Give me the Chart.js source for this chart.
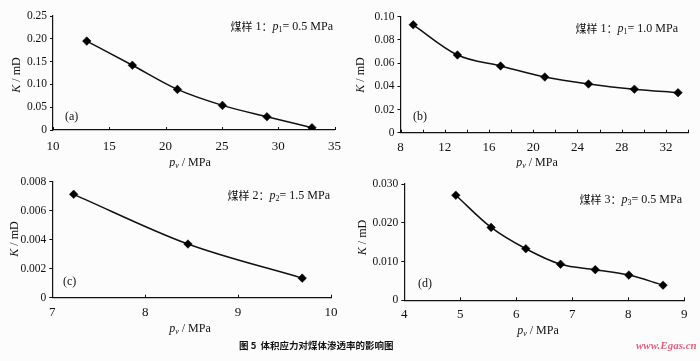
<!DOCTYPE html>
<html><head><meta charset="utf-8">
<script src="https://cdn.jsdelivr.net/npm/chart.js@4.4.0/dist/chart.umd.min.js"></script>
<style>
html,body{margin:0;padding:0;background:#fcfcfc;}
#wrap{position:relative;width:700px;height:361px;overflow:hidden;background:#fcfcfc;}
canvas{position:absolute;}
#caption{position:absolute;left:239px;top:337px;font:bold 9.5px "Noto Sans CJK SC",sans-serif;color:#111;white-space:pre;line-height:16px;}
#wm{position:absolute;left:636px;top:337px;font:italic bold 11px "Liberation Serif",serif;color:#e4607f;line-height:16px;white-space:pre;}
</style></head><body>
<div id="wrap">
<canvas id="ca" width="350" height="168" style="left:0;top:0"></canvas>
<canvas id="cb" width="350" height="168" style="left:350px;top:0"></canvas>
<canvas id="cc" width="350" height="170" style="left:0;top:168px"></canvas>
<canvas id="cd" width="350" height="170" style="left:350px;top:168px"></canvas>
<div id="caption">图 5  体积应力对煤体渗透率的影响图</div>
<div id="wm">www.Egas.cn</div>
</div>
<script>
// ---- data ----
const pvA = [13.0, 17.05, 21.05, 25.05, 29.0, 33.0];
const kA  = [0.195, 0.142, 0.089, 0.054, 0.029, 0.005];
const pvB = [9.15, 13.15, 17.05, 21.05, 25.0, 29.15, 33.1];
const kB  = [0.093, 0.067, 0.0575, 0.048, 0.042, 0.0375, 0.0345];
const pvC = [7.23, 8.46, 9.69];
const kC  = [0.00713, 0.0037, 0.00135];
const pvD = [4.92, 5.55, 6.17, 6.79, 7.41, 8.01, 8.62];
const kD  = [0.0271, 0.0188, 0.0133, 0.0093, 0.0079, 0.0065, 0.0039];

// tick values and labels
const xTicksA = [10, 15, 20, 25, 30, 35];
const xLabelsA = ['10', '15', '20', '25', '30', '35'];
const yTicksA = [0, 0.05, 0.10, 0.15, 0.20, 0.25];
const yLabelsA = ['0', '0.05', '0.10', '0.15', '0.20', '0.25'];

const xTicksB = [8, 10, 12, 14, 16, 18, 20, 22, 24, 26, 28, 30, 32, 34];
const xLabelsB = ['8', '', '12', '', '16', '', '20', '', '24', '', '28', '', '32', ''];
const yTicksB = [0, 0.02, 0.04, 0.06, 0.08, 0.10];
const yLabelsB = ['0', '0.02', '0.04', '0.06', '0.08', '0.10'];

const xTicksC = [7, 8, 9, 10];
const xLabelsC = ['7', '8', '9', '10'];
const yTicksC = [0, 0.002, 0.004, 0.006, 0.008];
const yLabelsC = ['0', '0.002', '0.004', '0.006', '0.008'];

const xTicksD = [4, 5, 6, 7, 8, 9];
const xLabelsD = ['4', '5', '6', '7', '8', '9'];
const yTicksD = [0, 0.010, 0.020, 0.030];
const yLabelsD = ['0', '0.010', '0.020', '0.030'];

const annotA = ['煤样', ' 1', '：', 'p', '1', '= 0.5 MPa'];
const annotB = ['煤样', ' 1', '：', 'p', '1', '= 1.0 MPa'];
const annotC = ['煤样', ' 2', '：', 'p', '2', '= 1.5 MPa'];
const annotD = ['煤样', ' 3', '：', 'p', '3', '= 0.5 MPa'];

// ---- drawing helpers ----
const SERIF = '"Liberation Serif","Times New Roman",serif';
const CJK = '"Noto Sans CJK SC",sans-serif';
function fontStr(p){ return (p.italic?'italic ':'') + (p.bold?'bold ':'') + p.size + 'px ' + (p.cjk?CJK:SERIF); }
function drawRich(ctx, parts, x, y, align, rot){
  ctx.save();
  ctx.textBaseline = 'middle';
  ctx.textAlign = 'left';
  ctx.fillStyle = '#111';
  let w = 0;
  parts.forEach(p => { ctx.font = fontStr(p); p._w = ctx.measureText(p.t).width; w += p._w; });
  ctx.translate(x, y);
  if (rot) ctx.rotate(rot);
  let cx = align === 'center' ? -w/2 : (align === 'right' ? -w : 0);
  parts.forEach(p => { ctx.font = fontStr(p); ctx.fillText(p.t, cx, p.dy || 0); cx += p._w; });
  ctx.restore();
}
function annotParts(a){
  return [
    {t:a[0], size:11, cjk:true},
    {t:a[1], size:12},
    {t:a[2], size:11, cjk:true},
    {t:a[3], size:12, italic:true},
    {t:a[4], size:8, dy:3},
    {t:a[5], size:12}
  ];
}
const yTitleParts = [{t:'K', size:12, italic:true}, {t:' / mD', size:12}];
const xTitleParts = [{t:'p', size:12, italic:true}, {t:'v', size:8, italic:true, dy:3}, {t:' / MPa', size:12}];

const textPlugin = {
  id: 'panelText',
  afterDraw(chart){
    const o = chart.options.plugins.panelText;
    const ctx = chart.ctx;
    const ca = chart.chartArea;
    const xs = chart.scales.x;
    // inward ticks on x axis
    ctx.save();
    ctx.strokeStyle = '#111';
    ctx.lineWidth = 1;
    xs.ticks.forEach(t => {
      const px = Math.round(xs.getPixelForValue(t.value)) + 0.5;
      ctx.beginPath(); ctx.moveTo(px, ca.bottom); ctx.lineTo(px, ca.bottom - 3); ctx.stroke();
    });
    ctx.restore();
    drawRich(ctx, yTitleParts, o.yt[0], o.yt[1], 'center', -Math.PI/2);
    drawRich(ctx, xTitleParts, o.xt[0], o.xt[1], 'center');
    drawRich(ctx, annotParts(o.annot), o.an[0], o.an[1], 'right');
    drawRich(ctx, [{t:o.label, size:12}], o.lb[0], o.lb[1], 'left');
  }
};

function makePanel(id, xs, ys, cfg){
  const canvas = document.getElementById(id);
  const H = canvas.height;
  return new Chart(canvas, {
    type: 'scatter',
    data: { datasets: [{
      data: xs.map((x, i) => ({x: x, y: ys[i]})),
      showLine: true,
      borderColor: '#111',
      borderWidth: 1.5,
      cubicInterpolationMode: 'monotone',
      pointStyle: 'rectRot',
      pointRadius: 4.3,
      pointBackgroundColor: '#000',
      pointBorderColor: '#000',
      pointBorderWidth: 0.5
    }]},
    options: {
      responsive: false,
      animation: false,
      events: [],
      layout: { padding: { left: 0, top: cfg.T, right: cfg.padR, bottom: 0 } },
      plugins: {
        legend: { display: false },
        tooltip: { enabled: false },
        panelText: cfg.text
      },
      scales: {
        x: {
          type: 'linear',
          min: cfg.xTicks[0], max: cfg.xTicks[cfg.xTicks.length-1],
          afterBuildTicks: s => { s.ticks = cfg.xTicks.map(v => ({value: v})); },
          afterFit: s => { s.height = H - cfg.B; },
          grid: { display: false, drawTicks: false },
          border: { display: true, color: '#111', width: 1.2 },
          ticks: {
            autoSkip: false, maxRotation: 0, padding: cfg.xPad, color: '#111',
            font: { family: SERIF, size: 13 },
            callback: (v, i) => cfg.xLabels[i]
          }
        },
        y: {
          type: 'linear',
          min: cfg.yTicks[0], max: cfg.yTicks[cfg.yTicks.length-1],
          afterBuildTicks: s => { s.ticks = cfg.yTicks.map(v => ({value: v})); },
          afterFit: s => { s.width = cfg.L; },
          grid: { display: true, drawOnChartArea: false, drawTicks: true, tickLength: 3, color: '#111' },
          border: { display: true, color: '#111', width: 1.2 },
          ticks: {
            autoSkip: false, padding: 3, color: '#111',
            font: { family: SERIF, size: 11.5 },
            callback: (v, i) => cfg.yLabels[i]
          }
        }
      }
    },
    plugins: [textPlugin]
  });
}

makePanel('ca', pvA, kA, {
  L: 53, T: 16, padR: 10, B: 130, xPad: 9,
  xTicks: xTicksA, xLabels: xLabelsA, yTicks: yTicksA, yLabels: yLabelsA,
  text: { yt: [17, 75], xt: [190, 162.5], an: [333, 27], lb: [65, 117], annot: annotA, label: '(a)' }
});
makePanel('cb', pvB, kB, {
  L: 50.5, T: 16.7, padR: 12, B: 132.7, xPad: 7,
  xTicks: xTicksB, xLabels: xLabelsB, yTicks: yTicksB, yLabels: yLabelsB,
  text: { yt: [11, 75], xt: [187, 162.5], an: [328, 29], lb: [63, 117], annot: annotB, label: '(b)' }
});
makePanel('cc', pvC, kC, {
  L: 52.3, T: 13.7, padR: 19, B: 129.7, xPad: 7,
  xTicks: xTicksC, xLabels: xLabelsC, yTicks: yTicksC, yLabels: yLabelsC,
  text: { yt: [15, 71], xt: [190, 161], an: [330, 28], lb: [63, 114], annot: annotC, label: '(c)' }
});
makePanel('cd', pvD, kD, {
  L: 54.3, T: 16, padR: 15.7, B: 132.3, xPad: 6,
  xTicks: xTicksD, xLabels: xLabelsD, yTicks: yTicksD, yLabels: yLabelsD,
  text: { yt: [12.5, 69.5], xt: [188, 162.7], an: [332, 32], lb: [68, 116], annot: annotD, label: '(d)' }
});
</script>
</body></html>
